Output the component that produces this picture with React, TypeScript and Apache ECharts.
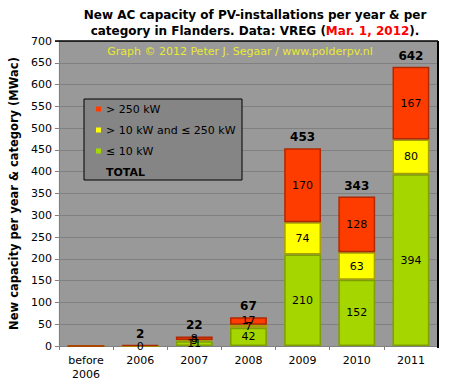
import React, { useEffect, useRef } from "react";
import * as echarts from "echarts";

const categories = ["before\n2006", "2006", "2007", "2008", "2009", "2010", "2011"];
const small = [0, 0, 11, 42, 210, 152, 394];
const medium = [0, 0, 3, 7, 74, 63, 80];
const large = [0, 2, 8, 17, 170, 128, 167];
const totals = [null, 2, 22, 67, 453, 343, 642];
const yTicks = { min: 0, max: 700, interval: 50 };

const FONT = "DejaVu Sans, Verdana, sans-serif";

export default function App() {
  const ref = useRef<HTMLDivElement>(null);
  useEffect(() => {
    if (!ref.current) return;
    const chart = echarts.init(ref.current, undefined, { renderer: "svg" });
    const gridL = 55, gridR = 13, gridT = 41, gridB = 33;
    const W = 451, H = 381;
    const segLabel = (hide0: boolean) => ({
      show: true,
      position: "inside" as const,
      color: "#000",
      fontFamily: FONT,
      fontSize: 11,
      formatter: (p: any) => (p.dataIndex === 0 ? "" : (hide0 && p.value === 0 ? "" : String(p.value))),
    });
    chart.setOption({
      animation: false,
      backgroundColor: "#fff",
      textStyle: { fontFamily: FONT },
      title: {
        text: "New AC capacity of PV-installations per year & per\ncategory in Flanders. Data: VREG ({r|Mar. 1, 2012}).",
        left: 250,
        textAlign: "center",
        top: 2,
        textStyle: {
          fontFamily: FONT,
          fontSize: 12,
          fontWeight: "bold",
          color: "#000",
          lineHeight: 16,
          rich: { r: { color: "#ff0000", fontFamily: FONT, fontSize: 12, fontWeight: "bold" } },
        },
      },
      grid: {
        left: gridL, right: gridR, top: gridT, bottom: gridB,
        show: true, backgroundColor: "#999999", borderWidth: 0,
      },
      legend: {
        orient: "vertical",
        left: 96,
        top: 102,
        z: 20,
        padding: 0,
        itemWidth: 5,
        itemHeight: 5,
        itemGap: 7,
        textStyle: { fontFamily: FONT, fontSize: 11, color: "#000", lineHeight: 14 },
        data: [
          { name: "> 250 kW", icon: "rect", itemStyle: { borderWidth: 0 } },
          { name: "> 10 kW and ≤ 250 kW", icon: "rect", itemStyle: { borderWidth: 0 } },
          { name: "≤ 10 kW", icon: "rect", itemStyle: { borderWidth: 0 } },
          { name: "TOTAL", icon: "none", textStyle: { fontWeight: "bold", fontFamily: FONT, fontSize: 11, color: "#000" } },
        ],
      },
      xAxis: {
        type: "category",
        data: categories,
        axisLine: { lineStyle: { color: "#808080", width: 1 } },
        axisTick: { show: true, alignWithLabel: false, length: 4, lineStyle: { color: "#808080" } },
        axisLabel: { color: "#000", fontFamily: FONT, fontSize: 11, lineHeight: 14, margin: 7 },
      },
      yAxis: {
        type: "value",
        min: yTicks.min,
        max: yTicks.max,
        interval: yTicks.interval,
        name: "New capacity per year & category (MWac)",
        nameLocation: "middle",
        nameGap: 38,
        nameTextStyle: { fontFamily: FONT, fontSize: 11.5, fontWeight: "bold", color: "#000" },
        axisLine: { show: true, lineStyle: { color: "#808080" } },
        axisTick: { show: true, length: 4, lineStyle: { color: "#808080" } },
        axisLabel: { color: "#000", fontFamily: FONT, fontSize: 11, margin: 7 },
        splitLine: { lineStyle: { color: "#808080", width: 1 } },
      },
      graphic: [
        {
          type: "rect",
          z: 1,
          shape: { x: 84, y: 99, width: 158, height: 81 },
          style: { fill: "#858585", stroke: "#000", lineWidth: 1 },
        },
        {
          type: "text",
          z: 10,
          x: 240,
          y: 46,
          style: {
            text: "Graph © 2012 Peter J. Segaar / www.polderpv.nl",
            fill: "#eaea30",
            font: `11px ${FONT}`,
            textAlign: "center",
          },
        },
        {
          type: "line",
          z: 10,
          shape: { x1: gridL, y1: gridT, x2: W - gridR, y2: gridT },
          style: { stroke: "#000", lineWidth: 1.5 },
        },
        {
          type: "line",
          z: 10,
          shape: { x1: W - gridR, y1: gridT, x2: W - gridR, y2: H - gridB },
          style: { stroke: "#000", lineWidth: 2 },
        },
      ],
      series: [
        {
          name: "≤ 10 kW",
          type: "bar",
          stack: "s",
          barWidth: "68%",
          data: small,
          itemStyle: { color: "#a6d600", borderColor: "#7f9e00", borderWidth: 1.5 },
          label: segLabel(false),
        },
        {
          name: "> 10 kW and ≤ 250 kW",
          type: "bar",
          stack: "s",
          data: medium,
          itemStyle: { color: "#ffff00", borderColor: "#a8a000", borderWidth: 1.5 },
          label: segLabel(true),
        },
        {
          name: "> 250 kW",
          type: "bar",
          stack: "s",
          data: large,
          itemStyle: { color: "#ff3c00", borderColor: "#b02800", borderWidth: 1.5 },
          label: { ...segLabel(false), formatter: (p: any) => (p.dataIndex <= 1 ? "" : String(p.value)) },
        },
        {
          name: "TOTAL",
          type: "bar",
          stack: "s",
          data: totals.map(() => 0),
          itemStyle: { color: "transparent" },
          label: {
            show: true,
            position: "top",
            distance: 5,
            color: "#000",
            fontFamily: FONT,
            fontSize: 12,
            fontWeight: "bold",
            formatter: (p: any) => (totals[p.dataIndex] == null ? "" : String(totals[p.dataIndex])),
          },
        },
      ],
    });
    return () => chart.dispose();
  }, []);
  return <div ref={ref} style={{ position: "fixed", left: 0, top: 0, width: 451, height: 381 }} />;
}
